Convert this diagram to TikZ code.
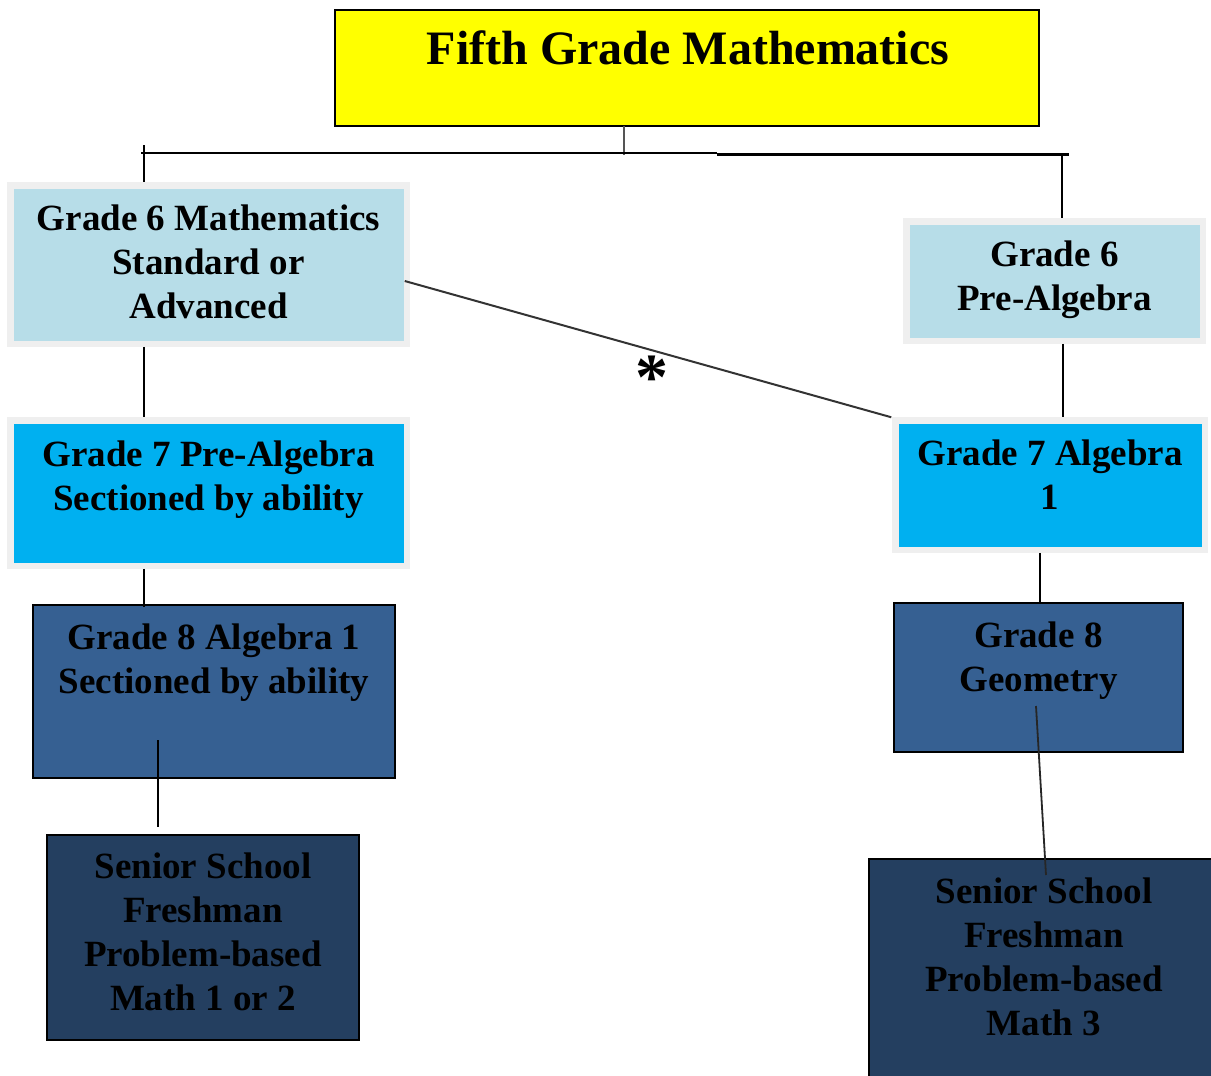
\documentclass[tikz,border=0pt]{standalone}
\usepackage{fontspec}
\setmainfont{Liberation Serif}
\usetikzlibrary{calc}
\definecolor{ttlyellow}{HTML}{FFFF00}
\definecolor{paleblue}{HTML}{B7DDE8}
\definecolor{frame}{HTML}{EFEFEF}
\definecolor{skyblue}{HTML}{00B0F0}
\definecolor{midblue}{HTML}{366092}
\definecolor{darkblue}{HTML}{243F60}
\definecolor{stem}{HTML}{555555}
\tikzset{
  boxbase/.style={rectangle, inner sep=0pt, outer sep=0pt},
  framed/.style={boxbase, draw=frame, line width=6.5pt},
  solidbox/.style={boxbase, draw=black, line width=2pt},
  lbl/.style={inner sep=0pt, align=center, font=\bfseries\fontsize{37}{44}\selectfont},
  conn/.style={draw=black, line width=2pt},
}
\begin{document}
\begin{tikzpicture}[x=1pt,y=-1pt]
\clip (0,0) rectangle (1211,1076);
\fill[white] (0,0) rectangle (1211,1076);

% coordinates for free ends of connectors
\coordinate (junc) at (624,155);
\coordinate (hl) at (141,153);
\coordinate (hm) at (717,153);
\coordinate (hm2) at (717,154);
\coordinate (hr) at (1069,154);
\coordinate (ltick) at (144,145);
\coordinate (rtick) at (1062,155);

% boxes
\node[solidbox, fill=ttlyellow, minimum width=704pt, minimum height=116pt] (title) at (687,68) {};
\node[framed, fill=paleblue, minimum width=396.5pt, minimum height=158.5pt] (g6l) at (208.5,264.5) {};
\node[framed, fill=skyblue, minimum width=396.5pt, minimum height=145.5pt] (g7l) at (208.5,493) {};
\node[solidbox, fill=midblue, minimum width=362pt, minimum height=173pt] (g8l) at (214,691.5) {};
\node[solidbox, fill=darkblue, minimum width=312pt, minimum height=205pt] (ssl) at (203,937.5) {};
\node[framed, fill=paleblue, minimum width=296.5pt, minimum height=119.5pt] (g6r) at (1054.5,281) {};
\node[framed, fill=skyblue, minimum width=309.5pt, minimum height=129.5pt] (g7r) at (1050,485) {};
\node[solidbox, fill=midblue, minimum width=289pt, minimum height=149pt] (g8r) at (1038.5,677.5) {};
\node[solidbox, fill=darkblue, minimum width=350pt, minimum height=240pt] (ssr) at (1044,979) {};

% tree connectors
\draw[stem, line width=1.3pt] (title.south -| junc) -- (junc);
\draw[conn] (hl) -- (hm);
\draw[conn, line width=3pt] (hm2) -- (hr);
\draw[conn] (ltick) -- ($(g6l.north -| ltick)+(0,-3)$);
\draw[conn] (rtick) -- ($(g6r.north -| rtick)+(0,-3)$);
\draw[conn] ($(g6l.south -| ltick)+(0,3)$) -- ($(g7l.north -| ltick)+(0,-3)$);
\draw[conn] ($(g7l.south -| ltick)+(0,3)$) -- ($(g8l.north -| ltick)+(0,2)$);
\draw[conn] ($(g6r.south)+(8.5,3)$) -- ($(g7r.north)+(13,-3)$);
\draw[conn] ($(g7r.south)+(-10,3)$) -- ($(g8r.north)+(1.5,-1)$);

% connectors drawn over the boxes
\draw[black, line width=2pt] ($(g8l.south)+(-56,-38)$) coordinate (a1) -- ($(ssl.north)+(-45,-8)$) coordinate (a2);
\draw[black!85, line width=1.8pt] ($(g8r.south)+(-2.5,-46)$) -- ($(ssr.north)+(2,16)$);
\draw[black!80, line width=2pt] ($(g6l.east)+(-2,16.5)$) -- ($(g7r.north west)+(-4,-3)$);

% texts
\node[inner sep=0pt, font=\bfseries\fontsize{48}{56}\selectfont] (ttltext) at (688,48) {Fifth Grade Mathematics};
\node[lbl] (g6ltext) at (208.5,262) {Grade 6 Mathematics\\Standard or\\Advanced};
\node[lbl] (g7ltext) at (208.5,479.5) {Grade 7 Pre-Algebra\\Sectioned by ability};
\node[lbl] (g8ltext) at (214,663) {Grade 8 Algebra 1\\Sectioned by ability};
\node[lbl] (ssltext) at (203,932) {Senior School\\Freshman\\Problem-based\\Math 1 or 2};
\node[lbl] (g6rtext) at (1054.5,280) {Grade 6\\Pre-Algebra};
\node[lbl] (g7rtext) at (1050,475) {Grade 7 Algebra\\1};
\node[lbl] (g8rtext) at (1038.5,661) {Grade 8\\Geometry};
\node[lbl] (ssrtext) at (1044,957) {Senior School\\Freshman\\Problem-based\\Math 3};
\node[inner sep=0pt, font=\bfseries\fontsize{66}{72}\selectfont] (star) at (652,378) {*};
\end{tikzpicture}
\end{document}
